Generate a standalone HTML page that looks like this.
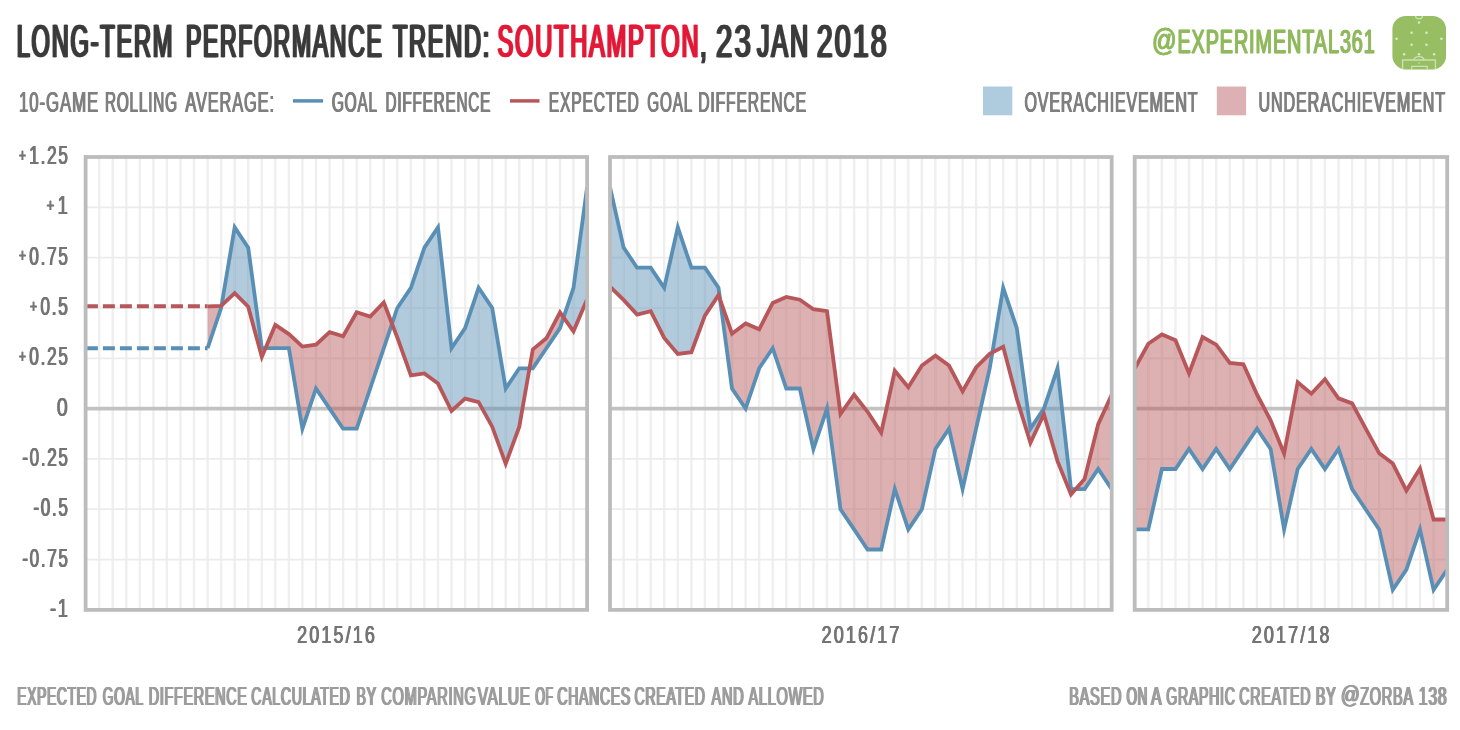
<!DOCTYPE html>
<html lang="en"><head><meta charset="utf-8"><title>Long-term performance trend: Southampton</title>
<style>html,body{margin:0;padding:0;background:#fff}body{width:1460px;height:730px;overflow:hidden}svg{display:block;filter:blur(0.55px)}</style></head>
<body>
<svg width="1460" height="730" viewBox="0 0 1460 730" font-family="'Liberation Sans', sans-serif">
<rect width="1460" height="730" fill="#fff"/>
<g id="t1">
<text x="16.7" y="57.4" font-size="47" fill="#3b3b3b" text-anchor="start" font-weight="normal" textLength="157.5" lengthAdjust="spacingAndGlyphs" letter-spacing="3.5" stroke="#3b3b3b" stroke-width="0.3" stroke-linejoin="round">LONG-TERM</text>
<text x="185.9" y="57.4" font-size="47" fill="#3b3b3b" text-anchor="start" font-weight="normal" textLength="197.6" lengthAdjust="spacingAndGlyphs" letter-spacing="3.5" stroke="#3b3b3b" stroke-width="0.3" stroke-linejoin="round">PERFORMANCE</text>
<text x="392.9" y="57.4" font-size="47" fill="#3b3b3b" text-anchor="start" font-weight="normal" textLength="98.2" lengthAdjust="spacingAndGlyphs" letter-spacing="3.5" stroke="#3b3b3b" stroke-width="0.3" stroke-linejoin="round">TREND:</text>
<text x="497.6" y="57.4" font-size="47" fill="#e21a38" text-anchor="start" font-weight="normal" textLength="202.6" lengthAdjust="spacingAndGlyphs" letter-spacing="3.5" stroke="#e21a38" stroke-width="0.3" stroke-linejoin="round">SOUTHAMPTON</text>
<text x="699.9" y="57.4" font-size="47" fill="#3b3b3b" text-anchor="start" font-weight="normal" textLength="8.5" lengthAdjust="spacingAndGlyphs" letter-spacing="3.5" stroke="#3b3b3b" stroke-width="0.3" stroke-linejoin="round">,</text>
<text x="715.9" y="57.4" font-size="47" fill="#3b3b3b" text-anchor="start" font-weight="normal" textLength="37.0" lengthAdjust="spacingAndGlyphs" letter-spacing="3.5" stroke="#3b3b3b" stroke-width="0.3" stroke-linejoin="round">23</text>
<text x="756.9" y="57.4" font-size="47" fill="#3b3b3b" text-anchor="start" font-weight="normal" textLength="53.0" lengthAdjust="spacingAndGlyphs" letter-spacing="3.5" stroke="#3b3b3b" stroke-width="0.3" stroke-linejoin="round">JAN</text>
<text x="816.7" y="57.4" font-size="47" fill="#3b3b3b" text-anchor="start" font-weight="normal" textLength="72.2" lengthAdjust="spacingAndGlyphs" letter-spacing="3.5" stroke="#3b3b3b" stroke-width="0.3" stroke-linejoin="round">2018</text>
</g>
<use href="#t1" x="-1.0"/>
<use href="#t1" x="1.0"/>
<line x1="293" y1="100.9" x2="323" y2="100.9" stroke="#5a8fb5" stroke-width="3.5"/>
<line x1="510" y1="100.9" x2="539.5" y2="100.9" stroke="#b7575a" stroke-width="3.5"/>
<rect x="983" y="86.5" width="29.3" height="28.8" fill="#afcbde"/>
<rect x="1216.8" y="86.5" width="29.3" height="28.8" fill="#ddb1b3"/>
<g id="t2">
<text x="19.0" y="111.5" font-size="30" fill="#7f7f7f" text-anchor="start" font-weight="normal" textLength="80.1" lengthAdjust="spacingAndGlyphs" letter-spacing="1.6">10-GAME</text>
<text x="105.0" y="111.5" font-size="30" fill="#7f7f7f" text-anchor="start" font-weight="normal" textLength="72.8" lengthAdjust="spacingAndGlyphs" letter-spacing="1.6">ROLLING</text>
<text x="185.4" y="111.5" font-size="30" fill="#7f7f7f" text-anchor="start" font-weight="normal" textLength="89.5" lengthAdjust="spacingAndGlyphs" letter-spacing="1.6">AVERAGE:</text>
<text x="331.9" y="111.5" font-size="30" fill="#7f7f7f" text-anchor="start" font-weight="normal" textLength="46.0" lengthAdjust="spacingAndGlyphs" letter-spacing="1.6">GOAL</text>
<text x="385.5" y="111.5" font-size="30" fill="#7f7f7f" text-anchor="start" font-weight="normal" textLength="105.6" lengthAdjust="spacingAndGlyphs" letter-spacing="1.6">DIFFERENCE</text>
<text x="548.7" y="111.5" font-size="30" fill="#7f7f7f" text-anchor="start" font-weight="normal" textLength="90.9" lengthAdjust="spacingAndGlyphs" letter-spacing="1.6">EXPECTED</text>
<text x="647.3" y="111.5" font-size="30" fill="#7f7f7f" text-anchor="start" font-weight="normal" textLength="45.7" lengthAdjust="spacingAndGlyphs" letter-spacing="1.6">GOAL</text>
<text x="698.2" y="111.5" font-size="30" fill="#7f7f7f" text-anchor="start" font-weight="normal" textLength="108.8" lengthAdjust="spacingAndGlyphs" letter-spacing="1.6">DIFFERENCE</text>
<text x="1024.5" y="111.5" font-size="30" fill="#7f7f7f" text-anchor="start" font-weight="normal" textLength="173.9" lengthAdjust="spacingAndGlyphs" letter-spacing="1.6">OVERACHIEVEMENT</text>
<text x="1258.5" y="111.5" font-size="30" fill="#7f7f7f" text-anchor="start" font-weight="normal" textLength="187.5" lengthAdjust="spacingAndGlyphs" letter-spacing="1.6">UNDERACHIEVEMENT</text>
</g>
<use href="#t2" x="-0.55"/>
<use href="#t2" x="0.55"/>
<g id="t3">
<text x="1152.0" y="50.7" font-size="30.6" fill="#90b95e" text-anchor="start" font-weight="normal" textLength="24.6" lengthAdjust="spacingAndGlyphs" stroke="#90b95e" stroke-width="0.3" stroke-linejoin="round">@</text>
<text x="1177.4" y="52.6" font-size="33.2" fill="#90b95e" text-anchor="start" font-weight="normal" textLength="198.3" lengthAdjust="spacingAndGlyphs" letter-spacing="1.6" stroke="#90b95e" stroke-width="0.4" stroke-linejoin="round">EXPERIMENTAL361</text>
</g>
<use href="#t3" x="-0.5"/>
<use href="#t3" x="0.5"/>
<g>
<rect x="1392.4" y="15.9" width="53.6" height="53.5" rx="13.5" ry="13.5" fill="#98be64"/>
<circle cx="1419" cy="22.4" r="1.25" fill="#dbeac6"/>
<circle cx="1411.6" cy="32.7" r="1.25" fill="#dbeac6"/>
<circle cx="1426.5" cy="32.7" r="1.25" fill="#dbeac6"/>
<circle cx="1396.6" cy="38.8" r="1.25" fill="#dbeac6"/>
<circle cx="1441.4" cy="38.8" r="1.25" fill="#dbeac6"/>
<circle cx="1411.6" cy="44.8" r="1.25" fill="#dbeac6"/>
<circle cx="1426.5" cy="44.8" r="1.25" fill="#dbeac6"/>
<circle cx="1404.1" cy="54.3" r="1.25" fill="#dbeac6"/>
<circle cx="1419" cy="54.3" r="1.25" fill="#dbeac6"/>
<circle cx="1434.1" cy="54.3" r="1.25" fill="#dbeac6"/>
<circle cx="1419" cy="63" r="0.7" fill="#dbeac6"/>
<path d="M1402.6 69.4V60H1435.4V69.4M1411.8 69.4V66.3H1427.2V69.4M1414 60A5 3.4 0 0 1 1424 60M1415.6 15.9A3.4 2.8 0 0 0 1422.4 15.9" fill="none" stroke="#cde1b2" stroke-width="1.3"/>
</g>
<g id="t4">
<text x="18.8" y="163.9" font-size="25" fill="#757575" text-anchor="start" font-weight="normal" textLength="50.8" lengthAdjust="spacingAndGlyphs" letter-spacing="2.5" stroke="#757575" stroke-width="0.2" stroke-linejoin="round"><tspan font-size="18" dy="-2.4">+</tspan><tspan dy="2.4" dx="2.2">1.25</tspan></text>
<text x="46.6" y="214.2" font-size="25" fill="#757575" text-anchor="start" font-weight="normal" textLength="23.0" lengthAdjust="spacingAndGlyphs" letter-spacing="2.5" stroke="#757575" stroke-width="0.2" stroke-linejoin="round"><tspan font-size="18" dy="-2.4">+</tspan><tspan dy="2.4" dx="2.2">1</tspan></text>
<text x="18.8" y="264.5" font-size="25" fill="#757575" text-anchor="start" font-weight="normal" textLength="50.8" lengthAdjust="spacingAndGlyphs" letter-spacing="2.5" stroke="#757575" stroke-width="0.2" stroke-linejoin="round"><tspan font-size="18" dy="-2.4">+</tspan><tspan dy="2.4" dx="2.2">0.75</tspan></text>
<text x="29.9" y="314.9" font-size="25" fill="#757575" text-anchor="start" font-weight="normal" textLength="39.7" lengthAdjust="spacingAndGlyphs" letter-spacing="2.5" stroke="#757575" stroke-width="0.2" stroke-linejoin="round"><tspan font-size="18" dy="-2.4">+</tspan><tspan dy="2.4" dx="2.2">0.5</tspan></text>
<text x="18.8" y="365.2" font-size="25" fill="#757575" text-anchor="start" font-weight="normal" textLength="50.8" lengthAdjust="spacingAndGlyphs" letter-spacing="2.5" stroke="#757575" stroke-width="0.2" stroke-linejoin="round"><tspan font-size="18" dy="-2.4">+</tspan><tspan dy="2.4" dx="2.2">0.25</tspan></text>
<text x="56.8" y="415.5" font-size="25" fill="#757575" text-anchor="start" font-weight="normal" textLength="12.8" lengthAdjust="spacingAndGlyphs" letter-spacing="2.5" stroke="#757575" stroke-width="0.2" stroke-linejoin="round">0</text>
<text x="22.3" y="465.8" font-size="25" fill="#757575" text-anchor="start" font-weight="normal" textLength="47.3" lengthAdjust="spacingAndGlyphs" letter-spacing="2.5" stroke="#757575" stroke-width="0.2" stroke-linejoin="round">-0.25</text>
<text x="33.4" y="516.1" font-size="25" fill="#757575" text-anchor="start" font-weight="normal" textLength="36.2" lengthAdjust="spacingAndGlyphs" letter-spacing="2.5" stroke="#757575" stroke-width="0.2" stroke-linejoin="round">-0.5</text>
<text x="22.3" y="566.5" font-size="25" fill="#757575" text-anchor="start" font-weight="normal" textLength="47.3" lengthAdjust="spacingAndGlyphs" letter-spacing="2.5" stroke="#757575" stroke-width="0.2" stroke-linejoin="round">-0.75</text>
<text x="50.1" y="616.8" font-size="25" fill="#757575" text-anchor="start" font-weight="normal" textLength="19.5" lengthAdjust="spacingAndGlyphs" letter-spacing="2.5" stroke="#757575" stroke-width="0.2" stroke-linejoin="round">-1</text>
</g>
<use href="#t4" x="-0.4"/>
<use href="#t4" x="0.4"/>
<path d="M99.2 157.0V609.9M112.7 157.0V609.9M126.3 157.0V609.9M139.8 157.0V609.9M153.4 157.0V609.9M166.9 157.0V609.9M180.5 157.0V609.9M194.0 157.0V609.9M207.6 157.0V609.9M221.1 157.0V609.9M234.7 157.0V609.9M248.2 157.0V609.9M261.8 157.0V609.9M275.3 157.0V609.9M288.9 157.0V609.9M302.4 157.0V609.9M316.0 157.0V609.9M329.6 157.0V609.9M343.1 157.0V609.9M356.7 157.0V609.9M370.2 157.0V609.9M383.8 157.0V609.9M397.3 157.0V609.9M410.9 157.0V609.9M424.4 157.0V609.9M438.0 157.0V609.9M451.5 157.0V609.9M465.1 157.0V609.9M478.6 157.0V609.9M492.2 157.0V609.9M505.7 157.0V609.9M519.3 157.0V609.9M532.8 157.0V609.9M546.4 157.0V609.9M560.0 157.0V609.9M573.5 157.0V609.9" stroke="#efefef" stroke-width="2.4" fill="none"/>
<path d="M85.6 207.3H587.1M85.6 257.6H587.1M85.6 308.0H587.1M85.6 358.3H587.1M85.6 458.9H587.1M85.6 509.2H587.1M85.6 559.6H587.1" stroke="#ececec" stroke-width="1.7" fill="none"/>
<line x1="85.6" y1="408.6" x2="587.1" y2="408.6" stroke="#c2c2c2" stroke-width="3.6"/>
<polygon points="207.6,348.2 221.1,308.0 221.1,305.9 207.6,306.3" fill="#b7575a" fill-opacity="0.47"/>
<polygon points="221.1,308.0 221.5,305.6 221.1,305.9" fill="#b7575a" fill-opacity="0.47"/>
<polygon points="221.5,305.6 234.7,227.4 234.7,293.1" fill="#5a8fb5" fill-opacity="0.47"/>
<polygon points="234.7,227.4 248.2,247.6 248.2,306.7 234.7,293.1" fill="#5a8fb5" fill-opacity="0.47"/>
<polygon points="248.2,247.6 261.8,348.2 261.8,356.9 248.2,306.7" fill="#5a8fb5" fill-opacity="0.47"/>
<polygon points="261.8,348.2 265.5,348.2 261.8,356.9" fill="#5a8fb5" fill-opacity="0.47"/>
<polygon points="265.5,348.2 275.3,348.2 275.3,324.9" fill="#b7575a" fill-opacity="0.47"/>
<polygon points="275.3,348.2 288.9,348.2 288.9,334.1 275.3,324.9" fill="#b7575a" fill-opacity="0.47"/>
<polygon points="288.9,348.2 302.4,428.7 302.4,346.6 288.9,334.1" fill="#b7575a" fill-opacity="0.47"/>
<polygon points="302.4,428.7 316.0,388.5 316.0,344.6 302.4,346.6" fill="#b7575a" fill-opacity="0.47"/>
<polygon points="316.0,388.5 329.6,408.6 329.6,332.1 316.0,344.6" fill="#b7575a" fill-opacity="0.47"/>
<polygon points="329.6,408.6 343.1,428.7 343.1,336.3 329.6,332.1" fill="#b7575a" fill-opacity="0.47"/>
<polygon points="343.1,428.7 356.7,428.7 356.7,312.2 343.1,336.3" fill="#b7575a" fill-opacity="0.47"/>
<polygon points="356.7,428.7 370.2,388.5 370.2,316.6 356.7,312.2" fill="#b7575a" fill-opacity="0.47"/>
<polygon points="370.2,388.5 383.8,348.2 383.8,302.5 370.2,316.6" fill="#b7575a" fill-opacity="0.47"/>
<polygon points="383.8,348.2 392.0,323.8 383.8,302.5" fill="#b7575a" fill-opacity="0.47"/>
<polygon points="392.0,323.8 397.3,308.0 397.3,337.5" fill="#5a8fb5" fill-opacity="0.47"/>
<polygon points="397.3,308.0 410.9,287.8 410.9,375.4 397.3,337.5" fill="#5a8fb5" fill-opacity="0.47"/>
<polygon points="410.9,287.8 424.4,247.6 424.4,373.4 410.9,375.4" fill="#5a8fb5" fill-opacity="0.47"/>
<polygon points="424.4,247.6 438.0,227.4 438.0,383.6 424.4,373.4" fill="#5a8fb5" fill-opacity="0.47"/>
<polygon points="438.0,227.4 451.5,348.2 451.5,411.0 438.0,383.6" fill="#5a8fb5" fill-opacity="0.47"/>
<polygon points="451.5,348.2 465.1,328.1 465.1,398.7 451.5,411.0" fill="#5a8fb5" fill-opacity="0.47"/>
<polygon points="465.1,328.1 478.6,287.8 478.6,402.2 465.1,398.7" fill="#5a8fb5" fill-opacity="0.47"/>
<polygon points="478.6,287.8 492.2,308.0 492.2,426.7 478.6,402.2" fill="#5a8fb5" fill-opacity="0.47"/>
<polygon points="492.2,308.0 505.7,388.5 505.7,463.8 492.2,426.7" fill="#5a8fb5" fill-opacity="0.47"/>
<polygon points="505.7,388.5 519.3,368.3 519.3,426.7 505.7,463.8" fill="#5a8fb5" fill-opacity="0.47"/>
<polygon points="519.3,368.3 529.5,368.3 519.3,426.7" fill="#5a8fb5" fill-opacity="0.47"/>
<polygon points="529.5,368.3 532.8,368.3 532.8,349.4" fill="#b7575a" fill-opacity="0.47"/>
<polygon points="532.8,368.3 546.4,348.2 546.4,338.3 532.8,349.4" fill="#b7575a" fill-opacity="0.47"/>
<polygon points="546.4,348.2 560.0,328.1 560.0,312.4 546.4,338.3" fill="#b7575a" fill-opacity="0.47"/>
<polygon points="560.0,328.1 563.6,317.4 560.0,312.4" fill="#b7575a" fill-opacity="0.47"/>
<polygon points="563.6,317.4 573.5,287.8 573.5,331.3" fill="#5a8fb5" fill-opacity="0.47"/>
<polygon points="573.5,287.8 587.1,187.2 587.1,299.3 573.5,331.3" fill="#5a8fb5" fill-opacity="0.47"/>
<line x1="85.9" y1="306.3" x2="207.6" y2="306.3" stroke="#b7575a" stroke-width="4" stroke-dasharray="12 5"/>
<line x1="85.9" y1="348.2" x2="207.6" y2="348.2" stroke="#5a8fb5" stroke-width="4" stroke-dasharray="12 5"/>
<polyline points="207.6,348.2 221.1,308.0 234.7,227.4 248.2,247.6 261.8,348.2 275.3,348.2 288.9,348.2 302.4,428.7 316.0,388.5 329.6,408.6 343.1,428.7 356.7,428.7 370.2,388.5 383.8,348.2 397.3,308.0 410.9,287.8 424.4,247.6 438.0,227.4 451.5,348.2 465.1,328.1 478.6,287.8 492.2,308.0 505.7,388.5 519.3,368.3 532.8,368.3 546.4,348.2 560.0,328.1 573.5,287.8 587.1,187.2" fill="none" stroke="#5a8fb5" stroke-width="3.8" stroke-linejoin="miter" stroke-miterlimit="10"/>
<polyline points="207.6,306.3 221.1,305.9 234.7,293.1 248.2,306.7 261.8,356.9 275.3,324.9 288.9,334.1 302.4,346.6 316.0,344.6 329.6,332.1 343.1,336.3 356.7,312.2 370.2,316.6 383.8,302.5 397.3,337.5 410.9,375.4 424.4,373.4 438.0,383.6 451.5,411.0 465.1,398.7 478.6,402.2 492.2,426.7 505.7,463.8 519.3,426.7 532.8,349.4 546.4,338.3 560.0,312.4 573.5,331.3 587.1,299.3" fill="none" stroke="#b7575a" stroke-width="3.8" stroke-linejoin="miter" stroke-miterlimit="10"/>
<rect x="85.6" y="157.0" width="501.5" height="452.9" fill="none" stroke="#bcbcbc" stroke-width="3.8"/>
<path d="M623.6 157.0V609.9M637.1 157.0V609.9M650.7 157.0V609.9M664.2 157.0V609.9M677.8 157.0V609.9M691.4 157.0V609.9M704.9 157.0V609.9M718.5 157.0V609.9M732.0 157.0V609.9M745.6 157.0V609.9M759.2 157.0V609.9M772.7 157.0V609.9M786.3 157.0V609.9M799.8 157.0V609.9M813.4 157.0V609.9M827.0 157.0V609.9M840.5 157.0V609.9M854.1 157.0V609.9M867.6 157.0V609.9M881.2 157.0V609.9M894.8 157.0V609.9M908.3 157.0V609.9M921.9 157.0V609.9M935.4 157.0V609.9M949.0 157.0V609.9M962.6 157.0V609.9M976.1 157.0V609.9M989.7 157.0V609.9M1003.2 157.0V609.9M1016.8 157.0V609.9M1030.4 157.0V609.9M1043.9 157.0V609.9M1057.5 157.0V609.9M1071.0 157.0V609.9M1084.6 157.0V609.9M1098.2 157.0V609.9" stroke="#efefef" stroke-width="2.4" fill="none"/>
<path d="M610.0 207.3H1111.7M610.0 257.6H1111.7M610.0 308.0H1111.7M610.0 358.3H1111.7M610.0 458.9H1111.7M610.0 509.2H1111.7M610.0 559.6H1111.7" stroke="#ececec" stroke-width="1.7" fill="none"/>
<line x1="610.0" y1="408.6" x2="1111.7" y2="408.6" stroke="#c2c2c2" stroke-width="3.6"/>
<polygon points="610.0,187.2 623.6,247.6 623.6,299.9 610.0,286.6" fill="#5a8fb5" fill-opacity="0.47"/>
<polygon points="623.6,247.6 637.1,267.7 637.1,314.6 623.6,299.9" fill="#5a8fb5" fill-opacity="0.47"/>
<polygon points="637.1,267.7 650.7,267.7 650.7,311.2 637.1,314.6" fill="#5a8fb5" fill-opacity="0.47"/>
<polygon points="650.7,267.7 664.2,287.8 664.2,337.9 650.7,311.2" fill="#5a8fb5" fill-opacity="0.47"/>
<polygon points="664.2,287.8 677.8,227.4 677.8,354.0 664.2,337.9" fill="#5a8fb5" fill-opacity="0.47"/>
<polygon points="677.8,227.4 691.4,267.7 691.4,352.2 677.8,354.0" fill="#5a8fb5" fill-opacity="0.47"/>
<polygon points="691.4,267.7 704.9,267.7 704.9,315.6 691.4,352.2" fill="#5a8fb5" fill-opacity="0.47"/>
<polygon points="704.9,267.7 718.5,287.8 718.5,295.1 704.9,315.6" fill="#5a8fb5" fill-opacity="0.47"/>
<polygon points="718.5,287.8 720.1,299.6 718.5,295.1" fill="#5a8fb5" fill-opacity="0.47"/>
<polygon points="720.1,299.6 732.0,388.5 732.0,333.7" fill="#b7575a" fill-opacity="0.47"/>
<polygon points="732.0,388.5 745.6,408.6 745.6,323.5 732.0,333.7" fill="#b7575a" fill-opacity="0.47"/>
<polygon points="745.6,408.6 759.2,368.3 759.2,329.3 745.6,323.5" fill="#b7575a" fill-opacity="0.47"/>
<polygon points="759.2,368.3 772.7,348.2 772.7,302.9 759.2,329.3" fill="#b7575a" fill-opacity="0.47"/>
<polygon points="772.7,348.2 786.3,388.5 786.3,296.9 772.7,302.9" fill="#b7575a" fill-opacity="0.47"/>
<polygon points="786.3,388.5 799.8,388.5 799.8,299.7 786.3,296.9" fill="#b7575a" fill-opacity="0.47"/>
<polygon points="799.8,388.5 813.4,448.9 813.4,309.2 799.8,299.7" fill="#b7575a" fill-opacity="0.47"/>
<polygon points="813.4,448.9 827.0,408.6 827.0,311.2 813.4,309.2" fill="#b7575a" fill-opacity="0.47"/>
<polygon points="827.0,408.6 840.5,509.2 840.5,414.0 827.0,311.2" fill="#b7575a" fill-opacity="0.47"/>
<polygon points="840.5,509.2 854.1,529.4 854.1,394.7 840.5,414.0" fill="#b7575a" fill-opacity="0.47"/>
<polygon points="854.1,529.4 867.6,549.5 867.6,411.8 854.1,394.7" fill="#b7575a" fill-opacity="0.47"/>
<polygon points="867.6,549.5 881.2,549.5 881.2,432.6 867.6,411.8" fill="#b7575a" fill-opacity="0.47"/>
<polygon points="881.2,549.5 894.8,489.1 894.8,370.8 881.2,432.6" fill="#b7575a" fill-opacity="0.47"/>
<polygon points="894.8,489.1 908.3,529.4 908.3,387.3 894.8,370.8" fill="#b7575a" fill-opacity="0.47"/>
<polygon points="908.3,529.4 921.9,509.2 921.9,365.5 908.3,387.3" fill="#b7575a" fill-opacity="0.47"/>
<polygon points="921.9,509.2 935.4,448.9 935.4,355.7 921.9,365.5" fill="#b7575a" fill-opacity="0.47"/>
<polygon points="935.4,448.9 949.0,428.7 949.0,365.5 935.4,355.7" fill="#b7575a" fill-opacity="0.47"/>
<polygon points="949.0,428.7 962.6,489.1 962.6,391.3 949.0,365.5" fill="#b7575a" fill-opacity="0.47"/>
<polygon points="962.6,489.1 976.1,428.7 976.1,367.5 962.6,391.3" fill="#b7575a" fill-opacity="0.47"/>
<polygon points="976.1,428.7 989.7,368.3 989.7,353.8 976.1,367.5" fill="#b7575a" fill-opacity="0.47"/>
<polygon points="989.7,368.3 992.4,352.5 989.7,353.8" fill="#b7575a" fill-opacity="0.47"/>
<polygon points="992.4,352.5 1003.2,287.8 1003.2,346.8" fill="#5a8fb5" fill-opacity="0.47"/>
<polygon points="1003.2,287.8 1016.8,328.1 1016.8,398.7 1003.2,346.8" fill="#5a8fb5" fill-opacity="0.47"/>
<polygon points="1016.8,328.1 1030.4,428.7 1030.4,442.8 1016.8,398.7" fill="#5a8fb5" fill-opacity="0.47"/>
<polygon points="1030.4,428.7 1043.9,408.6 1043.9,414.2 1030.4,442.8" fill="#5a8fb5" fill-opacity="0.47"/>
<polygon points="1043.9,408.6 1057.5,368.3 1057.5,461.1 1043.9,414.2" fill="#5a8fb5" fill-opacity="0.47"/>
<polygon points="1057.5,368.3 1071.0,489.1 1071.0,494.4 1057.5,461.1" fill="#5a8fb5" fill-opacity="0.47"/>
<polygon points="1071.0,489.1 1075.6,489.1 1071.0,494.4" fill="#5a8fb5" fill-opacity="0.47"/>
<polygon points="1075.6,489.1 1084.6,489.1 1084.6,478.9" fill="#b7575a" fill-opacity="0.47"/>
<polygon points="1084.6,489.1 1098.2,469.0 1098.2,424.1 1084.6,478.9" fill="#b7575a" fill-opacity="0.47"/>
<polygon points="1098.2,469.0 1111.7,489.1 1111.7,394.9 1098.2,424.1" fill="#b7575a" fill-opacity="0.47"/>
<polyline points="610.0,187.2 623.6,247.6 637.1,267.7 650.7,267.7 664.2,287.8 677.8,227.4 691.4,267.7 704.9,267.7 718.5,287.8 732.0,388.5 745.6,408.6 759.2,368.3 772.7,348.2 786.3,388.5 799.8,388.5 813.4,448.9 827.0,408.6 840.5,509.2 854.1,529.4 867.6,549.5 881.2,549.5 894.8,489.1 908.3,529.4 921.9,509.2 935.4,448.9 949.0,428.7 962.6,489.1 976.1,428.7 989.7,368.3 1003.2,287.8 1016.8,328.1 1030.4,428.7 1043.9,408.6 1057.5,368.3 1071.0,489.1 1084.6,489.1 1098.2,469.0 1111.7,489.1" fill="none" stroke="#5a8fb5" stroke-width="3.8" stroke-linejoin="miter" stroke-miterlimit="10"/>
<polyline points="610.0,286.6 623.6,299.9 637.1,314.6 650.7,311.2 664.2,337.9 677.8,354.0 691.4,352.2 704.9,315.6 718.5,295.1 732.0,333.7 745.6,323.5 759.2,329.3 772.7,302.9 786.3,296.9 799.8,299.7 813.4,309.2 827.0,311.2 840.5,414.0 854.1,394.7 867.6,411.8 881.2,432.6 894.8,370.8 908.3,387.3 921.9,365.5 935.4,355.7 949.0,365.5 962.6,391.3 976.1,367.5 989.7,353.8 1003.2,346.8 1016.8,398.7 1030.4,442.8 1043.9,414.2 1057.5,461.1 1071.0,494.4 1084.6,478.9 1098.2,424.1 1111.7,394.9" fill="none" stroke="#b7575a" stroke-width="3.8" stroke-linejoin="miter" stroke-miterlimit="10"/>
<rect x="610.0" y="157.0" width="501.7" height="452.9" fill="none" stroke="#bcbcbc" stroke-width="3.8"/>
<path d="M1148.3 157.0V609.9M1161.9 157.0V609.9M1175.5 157.0V609.9M1189.0 157.0V609.9M1202.6 157.0V609.9M1216.2 157.0V609.9M1229.8 157.0V609.9M1243.4 157.0V609.9M1257.0 157.0V609.9M1270.6 157.0V609.9M1284.1 157.0V609.9M1297.7 157.0V609.9M1311.3 157.0V609.9M1324.9 157.0V609.9M1338.5 157.0V609.9M1352.1 157.0V609.9M1365.6 157.0V609.9M1379.2 157.0V609.9M1392.8 157.0V609.9M1406.4 157.0V609.9M1420.0 157.0V609.9M1433.6 157.0V609.9" stroke="#efefef" stroke-width="2.4" fill="none"/>
<path d="M1134.7 207.3H1447.2M1134.7 257.6H1447.2M1134.7 308.0H1447.2M1134.7 358.3H1447.2M1134.7 458.9H1447.2M1134.7 509.2H1447.2M1134.7 559.6H1447.2" stroke="#ececec" stroke-width="1.7" fill="none"/>
<line x1="1134.7" y1="408.6" x2="1447.2" y2="408.6" stroke="#c2c2c2" stroke-width="3.6"/>
<polygon points="1134.7,529.4 1148.3,529.4 1148.3,343.8 1134.7,368.5" fill="#b7575a" fill-opacity="0.47"/>
<polygon points="1148.3,529.4 1161.9,469.0 1161.9,334.5 1148.3,343.8" fill="#b7575a" fill-opacity="0.47"/>
<polygon points="1161.9,469.0 1175.5,469.0 1175.5,340.2 1161.9,334.5" fill="#b7575a" fill-opacity="0.47"/>
<polygon points="1175.5,469.0 1189.0,448.9 1189.0,373.4 1175.5,340.2" fill="#b7575a" fill-opacity="0.47"/>
<polygon points="1189.0,448.9 1202.6,469.0 1202.6,337.1 1189.0,373.4" fill="#b7575a" fill-opacity="0.47"/>
<polygon points="1202.6,469.0 1216.2,448.9 1216.2,344.6 1202.6,337.1" fill="#b7575a" fill-opacity="0.47"/>
<polygon points="1216.2,448.9 1229.8,469.0 1229.8,362.9 1216.2,344.6" fill="#b7575a" fill-opacity="0.47"/>
<polygon points="1229.8,469.0 1243.4,448.9 1243.4,364.3 1229.8,362.9" fill="#b7575a" fill-opacity="0.47"/>
<polygon points="1243.4,448.9 1257.0,428.7 1257.0,394.5 1243.4,364.3" fill="#b7575a" fill-opacity="0.47"/>
<polygon points="1257.0,428.7 1270.6,448.9 1270.6,420.3 1257.0,394.5" fill="#b7575a" fill-opacity="0.47"/>
<polygon points="1270.6,448.9 1284.1,529.4 1284.1,453.5 1270.6,420.3" fill="#b7575a" fill-opacity="0.47"/>
<polygon points="1284.1,529.4 1297.7,469.0 1297.7,382.2 1284.1,453.5" fill="#b7575a" fill-opacity="0.47"/>
<polygon points="1297.7,469.0 1311.3,448.9 1311.3,393.7 1297.7,382.2" fill="#b7575a" fill-opacity="0.47"/>
<polygon points="1311.3,448.9 1324.9,469.0 1324.9,379.2 1311.3,393.7" fill="#b7575a" fill-opacity="0.47"/>
<polygon points="1324.9,469.0 1338.5,448.9 1338.5,398.3 1324.9,379.2" fill="#b7575a" fill-opacity="0.47"/>
<polygon points="1338.5,448.9 1352.1,489.1 1352.1,403.4 1338.5,398.3" fill="#b7575a" fill-opacity="0.47"/>
<polygon points="1352.1,489.1 1365.6,509.2 1365.6,428.3 1352.1,403.4" fill="#b7575a" fill-opacity="0.47"/>
<polygon points="1365.6,509.2 1379.2,529.4 1379.2,453.3 1365.6,428.3" fill="#b7575a" fill-opacity="0.47"/>
<polygon points="1379.2,529.4 1392.8,589.8 1392.8,463.6 1379.2,453.3" fill="#b7575a" fill-opacity="0.47"/>
<polygon points="1392.8,589.8 1406.4,569.6 1406.4,490.5 1392.8,463.6" fill="#b7575a" fill-opacity="0.47"/>
<polygon points="1406.4,569.6 1420.0,529.4 1420.0,468.6 1406.4,490.5" fill="#b7575a" fill-opacity="0.47"/>
<polygon points="1420.0,529.4 1433.6,589.8 1433.6,519.5 1420.0,468.6" fill="#b7575a" fill-opacity="0.47"/>
<polygon points="1433.6,589.8 1447.2,569.6 1447.2,519.5 1433.6,519.5" fill="#b7575a" fill-opacity="0.47"/>
<polyline points="1134.7,529.4 1148.3,529.4 1161.9,469.0 1175.5,469.0 1189.0,448.9 1202.6,469.0 1216.2,448.9 1229.8,469.0 1243.4,448.9 1257.0,428.7 1270.6,448.9 1284.1,529.4 1297.7,469.0 1311.3,448.9 1324.9,469.0 1338.5,448.9 1352.1,489.1 1365.6,509.2 1379.2,529.4 1392.8,589.8 1406.4,569.6 1420.0,529.4 1433.6,589.8 1447.2,569.6" fill="none" stroke="#5a8fb5" stroke-width="3.8" stroke-linejoin="miter" stroke-miterlimit="10"/>
<polyline points="1134.7,368.5 1148.3,343.8 1161.9,334.5 1175.5,340.2 1189.0,373.4 1202.6,337.1 1216.2,344.6 1229.8,362.9 1243.4,364.3 1257.0,394.5 1270.6,420.3 1284.1,453.5 1297.7,382.2 1311.3,393.7 1324.9,379.2 1338.5,398.3 1352.1,403.4 1365.6,428.3 1379.2,453.3 1392.8,463.6 1406.4,490.5 1420.0,468.6 1433.6,519.5 1447.2,519.5" fill="none" stroke="#b7575a" stroke-width="3.8" stroke-linejoin="miter" stroke-miterlimit="10"/>
<rect x="1134.7" y="157.0" width="312.5" height="452.9" fill="none" stroke="#bcbcbc" stroke-width="3.8"/>
<g id="t5">
<text x="297.2" y="643.3" font-size="24.5" fill="#757575" text-anchor="start" font-weight="normal" textLength="79.8" lengthAdjust="spacingAndGlyphs" letter-spacing="3" stroke="#757575" stroke-width="0.2" stroke-linejoin="round">2015/16</text>
<text x="821.7" y="643.3" font-size="24.5" fill="#757575" text-anchor="start" font-weight="normal" textLength="79.8" lengthAdjust="spacingAndGlyphs" letter-spacing="3" stroke="#757575" stroke-width="0.2" stroke-linejoin="round">2016/17</text>
<text x="1251.8" y="643.3" font-size="24.5" fill="#757575" text-anchor="start" font-weight="normal" textLength="79.8" lengthAdjust="spacingAndGlyphs" letter-spacing="3" stroke="#757575" stroke-width="0.2" stroke-linejoin="round">2017/18</text>
</g>
<use href="#t5" x="-0.35"/>
<use href="#t5" x="0.35"/>
<g id="t6">
<text x="17.3" y="704.7" font-size="26.3" fill="#9c9c9c" text-anchor="start" font-weight="normal" textLength="79.9" lengthAdjust="spacingAndGlyphs" letter-spacing="1.3">EXPECTED</text>
<text x="102.8" y="704.7" font-size="26.3" fill="#9c9c9c" text-anchor="start" font-weight="normal" textLength="40.9" lengthAdjust="spacingAndGlyphs" letter-spacing="1.3">GOAL</text>
<text x="148.8" y="704.7" font-size="26.3" fill="#9c9c9c" text-anchor="start" font-weight="normal" textLength="98.8" lengthAdjust="spacingAndGlyphs" letter-spacing="1.3">DIFFERENCE</text>
<text x="251.3" y="704.7" font-size="26.3" fill="#9c9c9c" text-anchor="start" font-weight="normal" textLength="99.2" lengthAdjust="spacingAndGlyphs" letter-spacing="1.3">CALCULATED</text>
<text x="356.5" y="704.7" font-size="26.3" fill="#9c9c9c" text-anchor="start" font-weight="normal" textLength="20.3" lengthAdjust="spacingAndGlyphs" letter-spacing="1.3">BY</text>
<text x="381.3" y="704.7" font-size="26.3" fill="#9c9c9c" text-anchor="start" font-weight="normal" textLength="95.2" lengthAdjust="spacingAndGlyphs" letter-spacing="1.3">COMPARING</text>
<text x="477.7" y="704.7" font-size="26.3" fill="#9c9c9c" text-anchor="start" font-weight="normal" textLength="53.0" lengthAdjust="spacingAndGlyphs" letter-spacing="1.3">VALUE</text>
<text x="535.4" y="704.7" font-size="26.3" fill="#9c9c9c" text-anchor="start" font-weight="normal" textLength="18.3" lengthAdjust="spacingAndGlyphs" letter-spacing="1.3">OF</text>
<text x="557.4" y="704.7" font-size="26.3" fill="#9c9c9c" text-anchor="start" font-weight="normal" textLength="73.5" lengthAdjust="spacingAndGlyphs" letter-spacing="1.3">CHANCES</text>
<text x="634.5" y="704.7" font-size="26.3" fill="#9c9c9c" text-anchor="start" font-weight="normal" textLength="71.2" lengthAdjust="spacingAndGlyphs" letter-spacing="1.3">CREATED</text>
<text x="711.5" y="704.7" font-size="26.3" fill="#9c9c9c" text-anchor="start" font-weight="normal" textLength="32.9" lengthAdjust="spacingAndGlyphs" letter-spacing="1.3">AND</text>
<text x="748.5" y="704.7" font-size="26.3" fill="#9c9c9c" text-anchor="start" font-weight="normal" textLength="76.0" lengthAdjust="spacingAndGlyphs" letter-spacing="1.3">ALLOWED</text>
<text x="1069.2" y="704.7" font-size="26.3" fill="#9c9c9c" text-anchor="start" font-weight="normal" textLength="53.0" lengthAdjust="spacingAndGlyphs" letter-spacing="1.3">BASED</text>
<text x="1126.6" y="704.7" font-size="26.3" fill="#9c9c9c" text-anchor="start" font-weight="normal" textLength="21.4" lengthAdjust="spacingAndGlyphs" letter-spacing="1.3">ON</text>
<text x="1151.1" y="704.7" font-size="26.3" fill="#9c9c9c" text-anchor="start" font-weight="normal" textLength="11.1" lengthAdjust="spacingAndGlyphs" letter-spacing="1.3">A</text>
<text x="1166.3" y="704.7" font-size="26.3" fill="#9c9c9c" text-anchor="start" font-weight="normal" textLength="69.3" lengthAdjust="spacingAndGlyphs" letter-spacing="1.3">GRAPHIC</text>
<text x="1239.3" y="704.7" font-size="26.3" fill="#9c9c9c" text-anchor="start" font-weight="normal" textLength="71.9" lengthAdjust="spacingAndGlyphs" letter-spacing="1.3">CREATED</text>
<text x="1315.9" y="704.7" font-size="26.3" fill="#9c9c9c" text-anchor="start" font-weight="normal" textLength="20.5" lengthAdjust="spacingAndGlyphs" letter-spacing="1.3">BY</text>
<text x="1360.2" y="704.7" font-size="26.3" fill="#9c9c9c" text-anchor="start" font-weight="normal" textLength="53.6" lengthAdjust="spacingAndGlyphs" letter-spacing="1.3">ZORBA</text>
<text x="1418.8" y="704.7" font-size="26.3" fill="#9c9c9c" text-anchor="start" font-weight="normal" textLength="28.6" lengthAdjust="spacingAndGlyphs" letter-spacing="1.3">138</text>
<text x="1340.9" y="702.9" font-size="24.7" fill="#9c9c9c" text-anchor="start" font-weight="normal" textLength="18.9" lengthAdjust="spacingAndGlyphs">@</text>
</g>
<use href="#t6" x="-0.8"/>
<use href="#t6" x="0.8"/>
</svg>
</body></html>
